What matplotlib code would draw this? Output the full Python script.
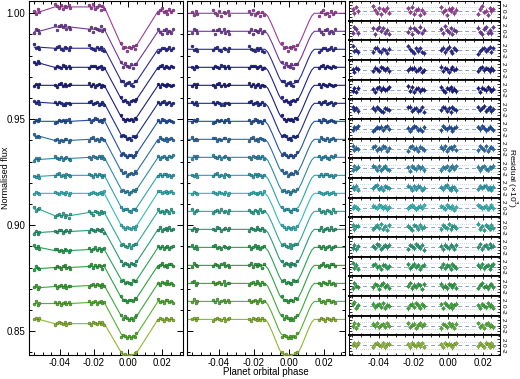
import numpy as np
import matplotlib
matplotlib.use('Agg')
import matplotlib.pyplot as plt
from matplotlib.ticker import MultipleLocator, FixedLocator
from matplotlib.colors import to_rgb

plt.rcParams['font.family'] = ['Liberation Sans', 'DejaVu Sans']

# ---------------- data ----------------
phase = [-0.0549, -0.0540, -0.0530, -0.0521,
         -0.0430, -0.0418, -0.0407, -0.0395, -0.0384, -0.0372, -0.0361, -0.0349, -0.0338,
         -0.0228, -0.0217, -0.0206, -0.0195, -0.0184, -0.0173, -0.0162, -0.0151, -0.0140,
         -0.0040, -0.0029, -0.0018, -0.0007, 0.0004, 0.0015, 0.0026, 0.0037, 0.0048,
         0.0174, 0.0185, 0.0196, 0.0207, 0.0218, 0.0229, 0.0240, 0.0251, 0.0262]
group_sizes = [4, 9, 9, 9, 9]

baseline = [1.000, 0.9915, 0.983, 0.9745, 0.966, 0.9575, 0.949, 0.9405, 0.932,
            0.9235, 0.915, 0.9065, 0.898, 0.8895, 0.881, 0.8725, 0.864, 0.8555]
depth = [0.0165, 0.0165, 0.0165, 0.0165, 0.0165, 0.0165, 0.0166, 0.0166, 0.0166,
         0.0167, 0.0167, 0.0167, 0.0168, 0.0168, 0.0168, 0.0169, 0.0170, 0.0172]

# normalised transit profile
transit_phase = [-0.070, -0.0135, -0.0120, -0.0100, -0.0080, -0.0060, -0.0045, -0.0030,
                 -0.0015, 0.0005, 0.0025, 0.0040, 0.0055, 0.0070, 0.0090, 0.0110,
                 0.0130, 0.0145, 0.040]
transit_shape = [0.0, 0.0, 0.08, 0.28, 0.52, 0.76, 0.90, 0.95, 0.985, 1.0, 0.985,
                 0.95, 0.90, 0.76, 0.52, 0.28, 0.08, 0.0, 0.0]

# systematics offsets (x1e-3) per group, left panel only
left_offsets = [
    [0.6, 3.0, 3.0, 0.0, 1.0],
    [0.0, 2.0, 1.0, 0.0, 0.0],
    [1.0, 0.5, 0.5, 0.0, 0.0],
    [2.0, 0.0, 0.0, 0.0, 0.0],
    [0.0, 0.0, 0.0, 0.0, 0.0],
    [0.5, 0.0, 0.0, 0.0, 0.0],
    [0.0, 0.0, 0.5, 0.0, 0.0],
    [1.5, -0.5, 0.0, 0.0, 0.0],
    [-1.0, -0.5, 0.0, 0.0, 0.0],
    [-0.5, 0.0, 0.0, 0.0, 0.0],
    [0.0, 0.0, 0.0, 0.0, 0.5],
    [1.0, -2.0, -0.5, 0.0, 0.0],
    [-1.5, -1.0, -0.5, 0.0, 0.0],
    [0.0, -1.5, -1.0, 0.0, 0.0],
    [-1.5, -1.0, -0.5, 0.0, 0.0],
    [-2.0, -1.5, -1.0, 0.0, 0.0],
    [-1.0, -1.0, -0.5, 0.0, 0.0],
    [0.0, -2.0, -2.0, 0.0, 0.0],
]

# residuals (x1e-3)
resid = [
    [0.6,-0.9,1.3,-0.2, 1.6,0.3,-0.7,1.0,-1.2,0.5,-0.1,1.1,-0.6, 0.9,-0.3,1.4,-1.0,0.2,0.7,-1.3,0.4,-0.8, 1.2,-0.5,0.3,-1.4,0.8,-0.1,1.0,-0.9,0.4, -1.1,0.7,1.5,-0.4,0.1,-1.3,0.9,-0.2,0.6],
    [-0.7,1.1,0.4,-1.0, 0.8,-1.3,0.5,1.2,-0.2,0.9,-0.8,0.1,-1.1, -0.4,1.0,-1.2,0.7,0.2,-0.5,1.3,-0.9,0.3, 0.5,-1.0,1.4,0.1,-0.6,0.9,-1.2,0.3,-0.3, 1.0,-0.5,-1.3,0.6,1.1,-0.8,0.2,-1.0,1.2],
    [1.4,-0.3,0.2,-0.8, -0.5,0.6,0.9,-0.2,-0.7,0.4,0.1,-0.9,0.5, 1.5,0.3,-0.4,-1.0,0.6,-0.2,0.8,-0.6,-1.1, 0.2,0.9,-0.7,0.4,1.2,-0.3,-0.9,0.6,0.1, -1.3,-0.4,0.5,0.8,-0.2,0.3,1.1,-0.5,0.7],
    [0.3,-0.6,0.8,0.2, -0.4,0.7,0.2,-0.3,0.9,0.5,-0.1,0.6,-0.5, -0.2,0.8,0.4,0.7,-0.3,0.1,0.5,-0.6,-0.2, 1.1,-0.4,0.6,0.2,-0.7,0.3,0.9,-0.1,0.4, -0.3,0.5,1.0,-0.2,0.6,0.3,-0.5,0.8,0.1],
    [-0.4,0.5,-0.9,0.6, 0.2,-0.7,0.4,0.9,-0.3,0.6,-0.2,0.1,0.7, 1.1,-0.4,0.8,-0.9,0.3,0.5,-0.6,0.2,-0.1, 0.9,-0.3,-0.8,0.5,0.1,0.7,-0.4,0.3,-0.6, 0.4,-0.8,0.6,0.2,-0.3,0.7,0.1,-0.5,0.3],
    [0.7,-0.2,0.4,-0.7, 0.5,-0.4,0.8,0.1,-0.6,-0.9,0.3,0.2,-0.3, 0.6,0.9,-0.5,0.2,0.4,-0.8,-0.3,0.7,-1.0, -0.2,0.8,0.5,-0.6,0.3,-1.1,0.6,0.1,-0.4, 0.8,-0.3,0.4,1.0,-0.5,0.2,0.6,-0.7,0.1],
    [-0.3,0.6,0.2,0.9, -0.8,-0.2,0.5,0.3,0.7,-0.4,0.6,1.0,-0.1, 0.4,-0.6,0.2,0.9,0.6,-0.3,0.1,-0.7,0.5, -0.5,1.0,0.3,-0.2,0.7,0.4,-0.6,0.2,0.8, 0.6,-0.2,0.9,0.4,-0.5,0.1,0.7,0.3,-0.4],
    [1.0,-0.5,0.3,-0.2, 0.4,0.8,-0.6,0.2,-0.3,0.7,0.5,-0.9,0.1, -0.7,0.5,0.9,-0.2,0.3,-0.8,0.6,0.1,-0.4, 0.6,-0.3,0.8,-0.7,0.2,0.5,-0.1,0.9,-0.5, -0.6,0.9,0.2,-0.4,0.7,-0.8,0.3,0.5,-0.1],
    [-0.6,0.8,-0.2,0.5, 0.9,0.3,-0.5,0.6,-0.8,0.2,0.7,-0.3,-0.6, 0.3,-0.9,0.6,0.2,-0.4,0.8,-0.1,0.5,-0.7, -0.8,0.4,0.1,0.7,-0.5,0.3,0.9,-0.2,0.6, 0.5,-0.7,0.3,0.8,-0.2,-0.6,0.4,0.1,0.9],
    [0.4,-0.3,0.7,-0.6, -0.2,0.6,0.9,-0.4,0.3,-0.7,0.5,0.2,-0.1, 0.8,0.2,-0.6,0.5,-0.3,0.7,0.4,-0.8,0.1, 0.3,-0.5,0.6,0.9,-0.2,-0.6,0.4,0.2,-0.9, -0.4,0.6,-0.1,0.5,0.8,-0.3,0.2,-0.7,0.4],
    [-0.2,0.5,0.1,-0.4, 0.6,0.3,-0.2,0.7,0.4,-0.1,0.5,-0.6,0.2, -0.3,0.4,0.8,0.3,-0.5,0.1,0.6,-0.2,0.9, 0.5,0.1,-0.4,0.7,0.3,-0.2,0.6,-0.7,0.2, 0.7,0.4,-0.3,0.1,0.6,-0.5,0.3,0.8,-0.2],
    [0.9,-0.8,0.3,0.5, -0.6,0.2,0.7,-0.3,1.0,-0.5,0.4,-0.9,0.6, 0.5,-0.2,-1.0,0.8,0.3,-0.6,0.9,-0.4,0.2, -0.7,0.6,0.2,-0.4,1.1,-0.8,0.3,0.5,-0.2, 1.2,-0.5,0.4,-0.9,0.7,0.2,-0.6,0.9,-0.3],
    [-0.5,0.7,-0.9,0.2, 0.3,-0.4,0.9,0.5,-0.7,0.1,0.6,-0.2,0.8, -0.8,0.6,0.2,-0.5,0.9,0.4,-0.3,0.7,-1.0, 0.4,-0.9,0.7,0.1,-0.5,0.8,0.3,-0.6,0.5, -0.2,0.9,-0.7,0.3,0.6,-0.4,1.0,-0.1,0.4],
    [1.2,-0.4,0.6,-0.9, 0.5,0.9,-0.3,0.2,-0.8,0.6,0.4,-0.5,0.1, 0.7,-0.6,0.3,1.0,-0.2,0.5,-0.9,0.2,0.6, -0.3,0.8,-0.5,0.4,0.2,-0.8,0.9,0.1,-0.4, 0.6,-0.3,0.8,-0.6,0.2,0.5,-0.9,0.3,0.7],
    [-0.8,1.1,0.2,-0.3, -0.4,0.7,0.3,-0.9,0.5,1.0,-0.2,0.4,-0.6, 0.2,1.1,-0.7,0.5,-0.3,0.8,0.3,-1.0,0.6, 0.9,-0.4,0.2,-0.8,0.6,0.3,-0.2,0.7,-0.5, -0.6,0.4,1.0,-0.3,0.2,-0.7,0.5,0.8,-0.4],
    [0.5,1.3,-0.6,0.2, 0.8,-0.5,0.2,0.6,-0.3,0.9,-0.7,0.4,0.1, -0.9,0.3,0.7,-0.4,0.9,0.2,-0.6,0.5,-0.2, 0.6,-0.7,1.0,0.3,-0.4,0.5,-0.9,0.2,0.8, 0.3,-0.8,0.6,0.1,-0.5,0.9,-0.2,0.4,-0.6],
    [-0.3,1.0,-0.8,0.4, 0.6,-0.3,0.9,-0.6,0.2,0.5,-0.4,0.7,-0.1, 0.8,-0.5,0.3,0.6,-0.8,0.1,0.9,-0.3,0.4, -1.0,0.5,0.2,-0.6,0.8,-0.2,0.4,-0.7,0.6, 0.9,-0.4,0.2,-0.8,0.5,0.7,-0.3,0.1,-0.6],
    [0.2,0.7,-0.4,0.9, -0.6,0.4,0.8,0.1,-0.3,0.6,-0.8,0.3,0.5, 0.4,-0.7,0.9,0.2,-0.4,0.6,-0.2,0.8,-0.5, 0.3,-0.6,0.7,-0.1,0.5,0.2,-0.8,0.4,0.6, -0.4,0.8,0.1,-0.6,0.9,0.3,-0.5,0.6,-0.2],
]
resid_err = 0.8

colors = ['#a03c9c', '#70399a', '#2c2a92', '#20208a', '#1a1c82', '#1c2c8c',
          '#2250a0', '#2a6ea8', '#2a8cac', '#2aa4b2', '#32bcbc', '#2aac96',
          '#289c74', '#26a454', '#2ca240', '#3aaa36', '#54b230', '#8cba2e']

# ---------------- figure ----------------
W, H = 520, 379
fig = plt.figure(figsize=(W / 100, H / 100), dpi=100)

def fr(x0, y0, x1, y1):
    return [x0 / W, 1 - y1 / H, (x1 - x0) / W, (y1 - y0) / H]

TOP, BOT = 1, 355
ax_l = fig.add_axes(fr(29, TOP, 183, BOT))
ax_m = fig.add_axes(fr(187, TOP, 345, BOT))

ph = np.array(phase)
tp = np.array(transit_phase)
ts = np.array(transit_shape)
grid = np.linspace(-0.07, 0.04, 800)
gidx = np.repeat(np.arange(len(group_sizes)), group_sizes)

def darker(c, f=0.6):
    r, g, b = to_rgb(c)
    return (r * f, g * f, b * f)

for i in range(len(baseline)):
    c = colors[i]
    model_pts = baseline[i] - depth[i] * np.interp(ph, tp, ts)
    offs = np.array(left_offsets[i])[gidx] * 1e-3
    res = np.array(resid[i]) * 1e-3
    # left: data with systematics, model joined at data points
    ax_l.plot(ph, model_pts + offs, '-', color=c, lw=0.8, zorder=2)
    ax_l.plot(ph, model_pts + offs + res, 'o', ms=2.0, mfc=c, mec=darker(c), mew=0.4, zorder=3)
    # middle: detrended data with smooth model
    ax_m.plot(grid, baseline[i] - depth[i] * np.interp(grid, tp, ts), '-', color=c, lw=0.8, zorder=2)
    ax_m.plot(ph, model_pts + res, 'o', ms=2.0, mfc=c, mec=darker(c), mew=0.4, zorder=3)

for ax in (ax_l, ax_m):
    ax.set_xlim(-0.058, 0.032)
    ax.set_ylim(0.8387, 1.0058)
    ax.xaxis.set_major_locator(FixedLocator([-0.04, -0.02, 0.00, 0.02]))
    ax.xaxis.set_minor_locator(MultipleLocator(0.005))
    ax.yaxis.set_major_locator(FixedLocator([0.85, 0.90, 0.95, 1.00]))
    ax.yaxis.set_minor_locator(MultipleLocator(0.01))
    ax.tick_params(which='both', direction='in', top=True, right=True, labelsize=7,
                   width=0.7, pad=2.5)
    ax.tick_params(which='major', length=4)
    ax.tick_params(which='minor', length=2)
    ax.set_xticklabels(['-0.04', '-0.02', '0.00', '0.02'])
    for s in ax.spines.values():
        s.set_linewidth(0.8)
ax_l.set_yticklabels(['0.85', '0.90', '0.95', '1.00'])
ax_m.tick_params(labelleft=False)

mid_y = 1 - ((TOP + BOT) / 2) / H
fig.text(6 / W, mid_y, 'Normalised flux', rotation=90, ha='center', va='center', fontsize=6.5)
fig.text(266 / W, 1 - 372 / H, 'Planet orbital phase', ha='center', va='center', fontsize=7)

# right: residual stack
n = len(baseline)
h = (BOT - TOP) / n
for i in range(n):
    y0 = TOP + i * h
    ax = fig.add_axes(fr(349, y0, 500, y0 + h))
    c = colors[i]
    ax.axhline(0, color='#8aa4c4', lw=0.7, ls=(0, (4, 3)), zorder=1)
    for yy in (-1.2, 1.2):
        ax.axhline(yy, color='#b4cce4', lw=0.6, ls=(0, (1, 1.5)), zorder=1)
    ax.errorbar(ph, resid[i], yerr=resid_err, fmt='D', ms=1.9, color=c, mfc=c,
                mec=darker(c), mew=0.3, elinewidth=0.5, capsize=0, zorder=3)
    ax.set_xlim(-0.057, 0.030)
    ax.set_ylim(-3.4, 3.4)
    ax.xaxis.set_major_locator(FixedLocator([-0.04, -0.02, 0.00, 0.02]))
    ax.xaxis.set_minor_locator(MultipleLocator(0.005))
    ax.yaxis.set_major_locator(FixedLocator([-2, 0, 2]))
    ax.yaxis.set_minor_locator(MultipleLocator(1))
    ax.tick_params(which='both', direction='in', top=True, bottom=True, left=True, right=True,
                   width=0.6, labelleft=False, labelright=True, labelbottom=(i == n - 1))
    ax.tick_params(which='major', length=2.5)
    ax.tick_params(which='minor', length=1.2)
    ax.set_yticklabels(['-2', '0', '2'])
    for lab in ax.get_yticklabels():
        lab.set_rotation(270)
        lab.set_fontsize(4.6)
        lab.set_va('center')
    ax.tick_params(axis='y', pad=0.6)
    if i == n - 1:
        ax.set_xticklabels(['-0.04', '-0.02', '0.00', '0.02'])
        ax.tick_params(axis='x', labelsize=7, pad=2.5)
    for s in ax.spines.values():
        s.set_linewidth(0.7)
    ax.spines['top'].set_linewidth(1.3 if i > 0 else 0.8)
    ax.spines['bottom'].set_linewidth(1.3 if i < n - 1 else 0.8)

fig.text(512.5 / W, mid_y, 'Residual (×10$^3$)', rotation=270,
         ha='center', va='center', fontsize=6)

fig.savefig('out.png', dpi=100)
